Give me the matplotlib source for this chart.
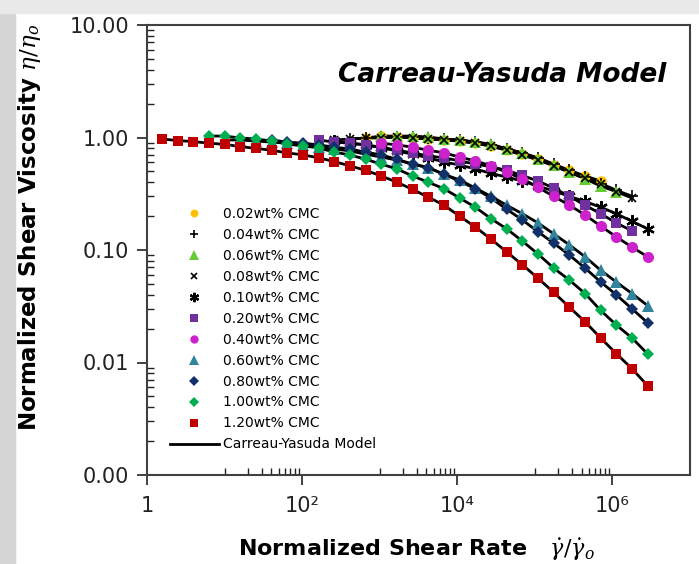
import matplotlib
matplotlib.use('Agg')
import matplotlib.pyplot as plt
from matplotlib.lines import Line2D
from matplotlib.patches import Rectangle
from matplotlib.ticker import FixedLocator, NullFormatter

plt.rcParams['font.family'] = ['DejaVu Sans']
plt.rcParams['mathtext.fontset'] = 'dejavuserif'

# gemeinsames Raster der normierten Scherrate
shear_rate = [1.56, 2.48, 3.95, 6.30, 10.0, 16.0, 25.4, 40.5, 64.4, 103, 163, 260,
              414, 659, 1050, 1670, 2660, 4240, 6750, 10700, 17100, 27200, 43400,
              69000, 110000, 175000, 279000, 444000, 706000, 1120000, 1790000, 2850000]

labels = ['0.02wt% CMC', '0.04wt% CMC', '0.06wt% CMC', '0.08wt% CMC', '0.10wt% CMC',
          '0.20wt% CMC', '0.40wt% CMC', '0.60wt% CMC', '0.80wt% CMC', '1.00wt% CMC',
          '1.20wt% CMC']

# erster Rasterpunkt jeder Messreihe
first_point = [13, 12, 14, 11, 11, 10, 14, 4, 7, 3, 0]

visc_002 = [0.99, 1.03, 1.01, 0.99, 0.97, 0.95, 0.93, 0.89, 0.84, 0.77, 0.71, 0.64,
            0.57, 0.51, 0.455, 0.41]
visc_004 = [0.97, 0.99, 1.01, 1.01, 1.01, 0.99, 0.97, 0.95, 0.91, 0.86, 0.79, 0.73,
            0.66, 0.58, 0.51, 0.45, 0.39, 0.34, 0.30]
visc_006 = [1.03, 1.03, 1.03, 1.01, 0.97, 0.95, 0.91, 0.875, 0.79, 0.73, 0.64, 0.57,
            0.49, 0.43, 0.37, 0.33]
visc_008 = [0.95, 0.97, 0.99, 0.99, 1.01, 0.99, 0.97, 0.95, 0.93, 0.89, 0.84, 0.77,
            0.70, 0.63, 0.56, 0.49, 0.44, 0.39, 0.33, 0.29]
visc_010 = [0.93, 0.89, 0.86, 0.81, 0.76, 0.71, 0.66, 0.605, 0.57, 0.525, 0.48, 0.445,
            0.41, 0.37, 0.335, 0.30, 0.27, 0.24, 0.21, 0.18, 0.154]
visc_020 = [0.95, 0.91, 0.89, 0.86, 0.82, 0.77, 0.73, 0.685, 0.66, 0.62, 0.58, 0.55,
            0.51, 0.46, 0.41, 0.355, 0.30, 0.25, 0.21, 0.174, 0.148]
visc_040 = [0.89, 0.86, 0.82, 0.77, 0.73, 0.67, 0.62, 0.56, 0.49, 0.43, 0.36, 0.30,
            0.25, 0.205, 0.163, 0.131, 0.106, 0.087]
visc_060 = [0.95, 0.95, 0.93, 0.91, 0.89, 0.86, 0.82, 0.79, 0.76, 0.71, 0.67, 0.63,
            0.58, 0.54, 0.47, 0.42, 0.355, 0.30, 0.25, 0.21, 0.174, 0.139, 0.111,
            0.087, 0.066, 0.052, 0.041, 0.032]
visc_080 = [0.95, 0.91, 0.89, 0.86, 0.82, 0.79, 0.74, 0.70, 0.64, 0.58, 0.54, 0.47,
            0.41, 0.35, 0.29, 0.23, 0.185, 0.145, 0.115, 0.090, 0.069, 0.052, 0.040,
            0.030, 0.0225]
visc_100 = [1.03, 1.03, 0.99, 0.97, 0.93, 0.875, 0.84, 0.81, 0.74, 0.70, 0.64, 0.58,
            0.525, 0.455, 0.40, 0.35, 0.29, 0.24, 0.19, 0.154, 0.12, 0.092, 0.069,
            0.054, 0.041, 0.029, 0.0216, 0.0165, 0.0119]
visc_120 = [0.97, 0.94, 0.92, 0.89, 0.87, 0.83, 0.80, 0.77, 0.73, 0.70, 0.66, 0.61,
            0.56, 0.51, 0.455, 0.40, 0.345, 0.295, 0.25, 0.20, 0.16, 0.125, 0.096,
            0.074, 0.056, 0.042, 0.031, 0.023, 0.0165, 0.012, 0.0088, 0.0062]

all_visc = [visc_002, visc_004, visc_006, visc_008, visc_010, visc_020, visc_040,
            visc_060, visc_080, visc_100, visc_120]

# Marker-Stil je Reihe: (marker, farbe, groesse, kantenbreite)
styles = [
    ('o', '#FFC000', 7.5, 0),
    ('+', 'black', 8, 1.2),
    ('^', '#66CC33', 9, 0),
    ('x', 'black', 6, 1.2),
    ((6, 2, 0), 'black', 9, 1.6),
    ('s', '#7030A0', 7.5, 0),
    ('o', '#CC22CC', 8, 0),
    ('^', '#31849B', 9, 0),
    ('D', '#12306A', 6.5, 0),
    ('D', '#00B050', 6.5, 0),
    ('s', '#C00000', 7.5, 0),
]

fig = plt.figure(figsize=(6.99, 5.64), dpi=100)
fig.patches.append(Rectangle((0, 0), 15 / 699, 1, transform=fig.transFigure,
                             color='#d6d6d6', zorder=0))
fig.patches.append(Rectangle((0, 1 - 13 / 564), 1, 13 / 564, transform=fig.transFigure,
                             color='#e9e9e9', zorder=0))

ax = fig.add_axes([147 / 699, 1 - 475 / 564, 543 / 699, 450 / 564])
ax.set_xscale('log')
ax.set_yscale('log')

handles = []
for visc, start, lab, (mk, col, ms, mew) in zip(all_visc, first_point, labels, styles):
    xs = shear_rate[start:start + len(visc)]
    ax.plot(xs, visc, color='black', lw=2, zorder=2)
    h, = ax.plot(xs, visc, ls='none', marker=mk, color=col, markersize=ms,
                 markeredgewidth=mew, zorder=3, label=lab)
    handles.append(h)

model = Line2D([], [], color='black', lw=2, label='Carreau-Yasuda Model')
handles.append(model)

ax.set_xlim(1, 1e7)
ax.set_ylim(1e-3, 10)

ax.xaxis.set_major_locator(FixedLocator([1, 1e2, 1e4, 1e6]))
ax.set_xticklabels(['1', '10\u00b2', '10\u2074', '10\u2076'])
ax.xaxis.set_minor_locator(FixedLocator([m * 10.0 ** e for e in (1, 3, 5) for m in range(1, 10)]))
ax.xaxis.set_minor_formatter(NullFormatter())

ax.yaxis.set_major_locator(FixedLocator([1e-3, 1e-2, 1e-1, 1, 10]))
ax.set_yticklabels(['0.00', '0.01', '0.10', '1.00', '10.00'])
ax.yaxis.set_minor_locator(FixedLocator([m * 10.0 ** e for e in (-3, -2, -1, 0) for m in range(2, 10)]))
ax.yaxis.set_minor_formatter(NullFormatter())

ax.tick_params(which='major', direction='out', length=7, width=1.2, labelsize=15,
               colors='#222222', pad=6)
ax.tick_params(which='minor', direction='in', length=5, width=1, colors='#222222')
ax.tick_params(axis='x', which='major', pad=8)

for sp in ax.spines.values():
    sp.set_color('#404040')
    sp.set_linewidth(1.5)

fig.text(416 / 699, 1 - 550 / 564, r'Normalized Shear Rate   $\dot{\gamma}/\dot{\gamma}_o$',
         ha='center', va='center', fontsize=16, fontweight='bold')
fig.text(30 / 699, 1 - 228 / 564, r'Normalized Shear Viscosity $\eta/\eta_o$',
         ha='center', va='center', rotation=90, fontsize=16.5, fontweight='bold')

fig.text(502 / 699, 1 - 75 / 564, 'Carreau-Yasuda Model', ha='center', va='center',
         fontsize=19, fontstyle='italic', fontweight='bold')

leg = ax.legend(handles=handles, loc='upper left', bbox_to_anchor=(170 / 699, 1 - 207 / 564),
                bbox_transform=fig.transFigure, frameon=False, fontsize=10,
                handlelength=3.5, handletextpad=0.3, labelspacing=0.5,
                borderpad=0, borderaxespad=0, markerscale=0.75)

fig.savefig('out.png', dpi=100, facecolor='white')
